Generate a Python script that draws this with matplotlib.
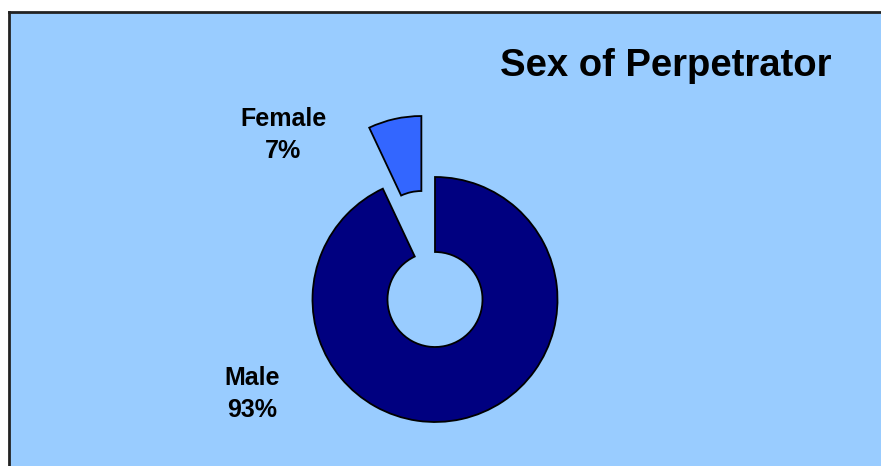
import matplotlib
matplotlib.use('Agg')
import matplotlib.pyplot as plt
from matplotlib.patches import Rectangle

plt.rcParams['font.family'] = ['Liberation Sans', 'DejaVu Sans']

# 数据
labels = ['Male', 'Female']
shares = [93, 7]
colors = ['#000080', '#3366FF']
title = 'Sex of Perpetrator'

W, H = 881, 466
fig = plt.figure(figsize=(W / 100, H / 100), dpi=100)
fig.patch.set_facecolor('white')

ax = fig.add_axes([0, 0, 1, 1])
ax.axis('off')
ax.patch.set_alpha(0)

# 背景面板（左、上有黑边）
ax.add_patch(Rectangle((9, -5), W, H - 12 + 5, facecolor='#99CCFF', edgecolor='none', zorder=-2))
ax.plot([9, 9], [-5, H - 12], color='#222222', linewidth=2, zorder=-1)
ax.plot([9, W + 5], [H - 12, H - 12], color='#222222', linewidth=2, zorder=-1)

# 环形图，Female 扇区拉出（explode 单位为数据坐标）
radius = 122.5
ax.pie(shares, colors=colors, explode=[0, 0.51 * radius], startangle=90, counterclock=False,
       center=(435, H - 299.5), radius=radius,
       wedgeprops=dict(width=75, edgecolor='black', linewidth=1.3))
ax.set_xlim(0, W)
ax.set_ylim(0, H)
ax.set_aspect('equal')

ax.text(666, H - 66, title, fontsize=27.5, fontweight='bold', ha='center', va='center')

label_pos = {'Male': (252, H - 394), 'Female': (283, H - 135)}
for lab, val in zip(labels, shares):
    x, y = label_pos[lab]
    ax.text(x, y, f'{lab}\n{val}%', fontsize=18, fontweight='bold', ha='center', va='center',
            linespacing=1.45)

plt.savefig('out.png', dpi=100)
